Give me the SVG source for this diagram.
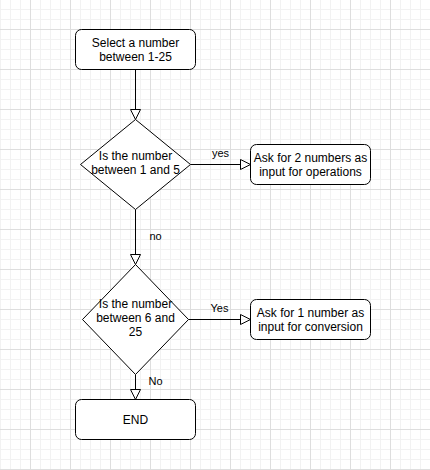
<svg xmlns="http://www.w3.org/2000/svg" width="430" height="470" viewBox="0 0 430 470">
<style>
.node{fill:#ffffff;stroke:#000000;stroke-width:1}
.t{font-family:"Liberation Sans",Arial,sans-serif;font-size:12px;fill:#000000;text-anchor:middle}
.lbl{font-family:"Liberation Sans",Arial,sans-serif;font-size:11px;fill:#000000;text-anchor:middle}
.edge{fill:none;stroke:#000000;stroke-width:1}
</style>
<defs>
<pattern id="grid" x="0" y="0" width="40" height="40" patternUnits="userSpaceOnUse">
<path d="M0.5 0V40M10.5 0V40M20.5 0V40M0 9.5H40M0 19.5H40M0 39.5H40" fill="none" stroke="#f2f2f2" stroke-width="1"/>
<path d="M30.5 0V40M0 29.5H40" fill="none" stroke="#dedede" stroke-width="1"/>
</pattern>
<marker id="arr" markerUnits="userSpaceOnUse" markerWidth="12" markerHeight="12" refX="0" refY="5" orient="auto" overflow="visible">
<path d="M0,0 L10,5 L0,10 Z" fill="none" stroke="#000000" stroke-width="1"/>
</marker>
</defs>
<rect x="0" y="0" width="430" height="470" fill="#ffffff"/>
<rect x="0" y="0" width="430" height="470" fill="url(#grid)"/>
<g id="connectors">
<line class="edge" x1="135.5" y1="69.5" x2="135.5" y2="109.5" marker-end="url(#arr)"/>
<line class="edge" x1="190.5" y1="164.5" x2="240.5" y2="164.5" marker-end="url(#arr)"/>
<text class="lbl" x="220.5" y="157">yes</text>
<line class="edge" x1="135.5" y1="209.5" x2="135.5" y2="254.5" marker-end="url(#arr)"/>
<text class="lbl" x="155.5" y="240">no</text>
<line class="edge" x1="188.5" y1="319.5" x2="240.5" y2="319.5" marker-end="url(#arr)"/>
<text class="lbl" x="219.5" y="312">Yes</text>
<line class="edge" x1="135.5" y1="374.5" x2="135.5" y2="389.5" marker-end="url(#arr)"/>
<text class="lbl" x="155.5" y="385">No</text>
</g>
<g id="start">
<rect class="node" x="75.5" y="29.5" width="120" height="40" rx="6" ry="6"/>
<text class="t" x="135.5" y="47">Select a number</text>
<text class="t" x="135.5" y="61">between 1-25</text>
</g>
<g id="decision1">
<polygon class="node" points="135.5,119.5 190.5,164.5 135.5,209.5 80.5,164.5"/>
<text class="t" x="135.5" y="160">Is the number</text>
<text class="t" x="135.5" y="174">between 1 and 5</text>
</g>
<g id="operations">
<rect class="node" x="250.5" y="144.5" width="120" height="40" rx="6" ry="6"/>
<text class="t" x="310.5" y="162">Ask for 2 numbers as</text>
<text class="t" x="310.5" y="176">input for operations</text>
</g>
<g id="decision2">
<polygon class="node" points="135.5,264.5 188.5,319.5 135.5,374.5 82.5,319.5"/>
<text class="t" x="135.5" y="307.5">Is the number</text>
<text class="t" x="135.5" y="321.5">between 6 and</text>
<text class="t" x="135.5" y="335.5">25</text>
</g>
<g id="conversion">
<rect class="node" x="250.5" y="299.5" width="120" height="40" rx="6" ry="6"/>
<text class="t" x="310.5" y="316.5">Ask for 1 number as</text>
<text class="t" x="310.5" y="330.5">input for conversion</text>
</g>
<g id="end">
<rect class="node" x="75.5" y="399.5" width="120" height="40" rx="6" ry="6"/>
<text class="t" x="135.5" y="424">END</text>
</g>
</svg>
